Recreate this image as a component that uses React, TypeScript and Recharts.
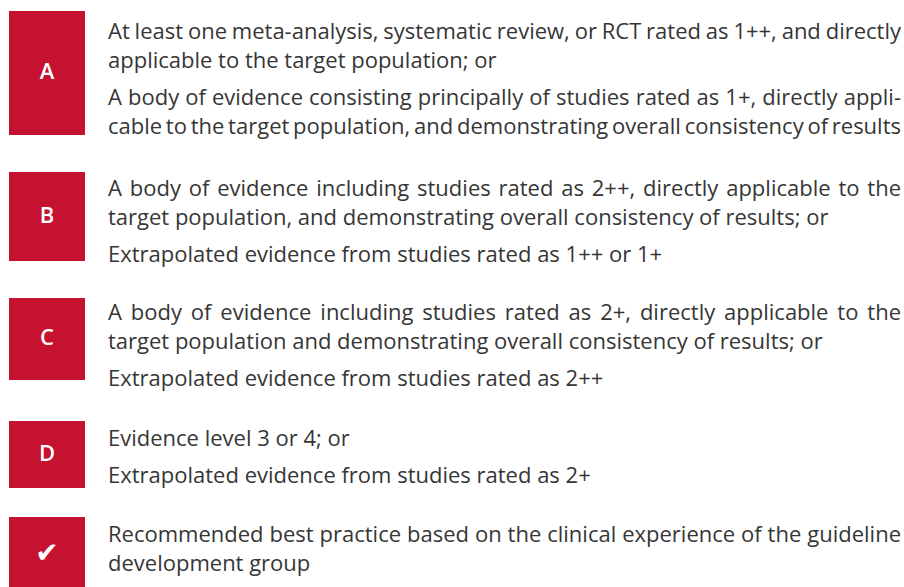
import { useLayoutEffect, useRef, useState } from "react";
import { BarChart, Bar, XAxis, YAxis } from "recharts";

// grade boxes, stacked top-down: empty gap then red box
const grades = ["A", "B", "C", "D", "✔"];
const gapBefore = [11, 37, 37, 41, 29];
const boxSize = [124, 89, 82, 67, 70];
const pageHeight = 587;

// statements per grade, paragraphs of lines as printed
const statements: string[][][] = [
  [
    [
      "At least one meta-analysis, systematic review, or RCT rated as 1++, and directly",
      "applicable to the target population; or",
    ],
    [
      "A body of evidence consisting principally of studies rated as 1+, directly appli-",
      "cable to the target population, and demonstrating overall consistency of results",
    ],
  ],
  [
    [
      "A body of evidence including studies rated as 2++, directly applicable to the",
      "target population, and demonstrating overall consistency of results; or",
    ],
    ["Extrapolated evidence from studies rated as 1++ or 1+"],
  ],
  [
    [
      "A body of evidence including studies rated as 2+, directly applicable to the",
      "target population and demonstrating overall consistency of results; or",
    ],
    ["Extrapolated evidence from studies rated as 2++"],
  ],
  [["Evidence level 3 or 4; or"], ["Extrapolated evidence from studies rated as 2+"]],
  [
    [
      "Recommended best practice based on the clinical experience of the guideline",
      "development group",
    ],
  ],
];

// lines that run the full text width in the print (justified)
const fullWidthLines = new Set([
  statements[0][0][0],
  statements[0][1][0],
  statements[0][1][1],
  statements[1][0][0],
  statements[2][0][0],
  statements[4][0][0],
]);

const RED = "#c41230";
const TEXT = "#363636";
const FONT = "'Open Sans', 'Noto Sans', sans-serif";
const TEXT_LEFT = 108;
const TEXT_WIDTH = 793;
const textNudge = [5, 1, -1, 2, 2];

const row: Record<string, number | string> = { name: "grades" };
grades.forEach((g, i) => {
  row[`gap${i}`] = gapBefore[i];
  row[`box${i}`] = boxSize[i];
});
const chartData = [row];

// top of each box, from the stacked values
const boxTops: number[] = [];
let acc = 0;
grades.forEach((g, i) => {
  acc += gapBefore[i];
  boxTops.push(acc);
  acc += boxSize[i];
});

const gradeLabel = (g: string) => (props: any) => {
  const { x, y, width, height } = props;
  const cx = Number(x) + Number(width) / 2;
  const cy = Number(y) + Number(height) / 2;
  const isCheck = g === "✔";
  return (
    <text
      x={cx}
      y={cy + (isCheck ? 10 : 6)}
      textAnchor="middle"
      fill="#ffffff"
      fontFamily={isCheck ? "'DejaVu Sans', sans-serif" : FONT}
      fontWeight={isCheck ? 400 : 600}
      fontSize={isCheck ? 28 : 22}
    >
      {g}
    </text>
  );
};

// stretches (or squeezes) word spacing so the line fills the width
function FullLine({ text, width }: { text: string; width: number }) {
  const ref = useRef<HTMLSpanElement>(null);
  const [ws, setWs] = useState(0);
  useLayoutEffect(() => {
    const fit = () => {
      const el = ref.current;
      if (!el) return;
      const prev = el.style.wordSpacing;
      el.style.wordSpacing = "0px";
      const w = el.getBoundingClientRect().width;
      el.style.wordSpacing = prev;
      const spaces = (text.match(/ /g) || []).length;
      if (spaces) setWs((width - w) / spaces);
    };
    fit();
    if (document.fonts) document.fonts.ready.then(fit);
  }, [text, width]);
  return (
    <div style={{ whiteSpace: "nowrap" }}>
      <span ref={ref} style={{ wordSpacing: ws }}>
        {text}
      </span>
    </div>
  );
}

export default function App() {
  return (
    <div
      style={{
        position: "absolute",
        left: 0,
        top: 0,
        width: 904,
        height: 587,
        background: "#ffffff",
        overflow: "hidden",
      }}
    >
      <BarChart
        width={94}
        height={pageHeight}
        data={chartData}
        margin={{ top: 0, right: 0, bottom: 0, left: 0 }}
        barSize={76}
      >
        <XAxis dataKey="name" hide />
        <YAxis type="number" domain={[0, pageHeight]} reversed hide />
        {grades.map((g, i) => [
          <Bar
            key={`gap${i}`}
            dataKey={`gap${i}`}
            stackId="s"
            fill="none"
            isAnimationActive={false}
          />,
          <Bar
            key={`box${i}`}
            dataKey={`box${i}`}
            stackId="s"
            fill={RED}
            isAnimationActive={false}
            label={gradeLabel(g)}
          />,
        ])}
      </BarChart>

      {statements.map((paras, i) => (
        <div
          key={i}
          style={{
            position: "absolute",
            left: TEXT_LEFT,
            top: boxTops[i] + textNudge[i],
            width: TEXT_WIDTH,
            fontFamily: FONT,
            fontSize: 22,
            lineHeight: "29px",
            color: TEXT,
          }}
        >
          {paras.map((lines, p) => (
            <div key={p} style={{ marginTop: p === 0 ? 0 : 7.5 }}>
              {lines.map((line, l) =>
                fullWidthLines.has(line) ? (
                  <FullLine key={l} text={line} width={TEXT_WIDTH} />
                ) : (
                  <div key={l} style={{ whiteSpace: "nowrap" }}>
                    {line}
                  </div>
                )
              )}
            </div>
          ))}
        </div>
      ))}
    </div>
  );
}
